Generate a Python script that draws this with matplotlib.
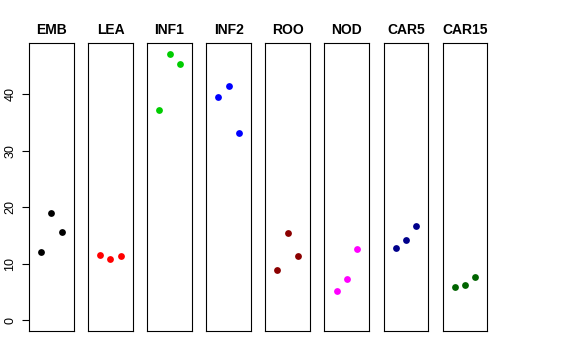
import matplotlib
matplotlib.use("Agg")
import matplotlib.pyplot as plt

plt.rcParams['font.family'] = ['Liberation Sans', 'DejaVu Sans']

# sample groups and their three replicate values
groups = ["EMB", "LEA", "INF1", "INF2", "ROO", "NOD", "CAR5", "CAR15"]
colors = ["black", "red", "#00CD00", "blue", "#8B0000", "magenta", "#00008B", "#006400"]
emb = [12.0, 18.9, 15.6]
lea = [11.6, 10.8, 11.4]
inf1 = [37.2, 47.2, 45.4]
inf2 = [39.5, 41.5, 33.2]
roo = [8.85, 15.4, 11.4]
nod = [5.2, 7.3, 12.6]
car5 = [12.7, 14.2, 16.6]
car15 = [5.8, 6.25, 7.55]
values = [emb, lea, inf1, inf2, roo, nod, car5, car15]
reps = [1, 2, 3]
yticks = [0, 10, 20, 30, 40]

fig = plt.figure(figsize=(5.76, 3.6), dpi=100)

# R-style axis range: 4% padding around 0..max
ymax = max(max(v) for v in values)
ypad = 0.04 * ymax

left0 = 29 / 576
step = 59.1 / 576
width = 44.7 / 576
bottom = 1 - 330.7 / 360
height = (330.7 - 43) / 360

for i, (name, col, vals) in enumerate(zip(groups, colors, values)):
    ax = fig.add_axes([left0 + i * step, bottom, width, height])
    ax.scatter(reps, vals, color=col, s=24, zorder=3, linewidths=0)
    ax.set_xlim(-0.16, 4.16)
    ax.set_ylim(-ypad, ymax + ypad)
    ax.set_xticks([])
    for sp in ax.spines.values():
        sp.set_linewidth(0.8)
    ax.set_title(name, fontsize=10, fontweight='bold', pad=6.5)
    if i == 0:
        ax.set_yticks(yticks)
        ax.set_yticklabels([str(t) for t in yticks], rotation=90, va='center', fontsize=9)
        ax.tick_params(axis='y', length=5, width=0.8, pad=4)
    else:
        ax.set_yticks([])

fig.savefig("out.png", dpi=100)
